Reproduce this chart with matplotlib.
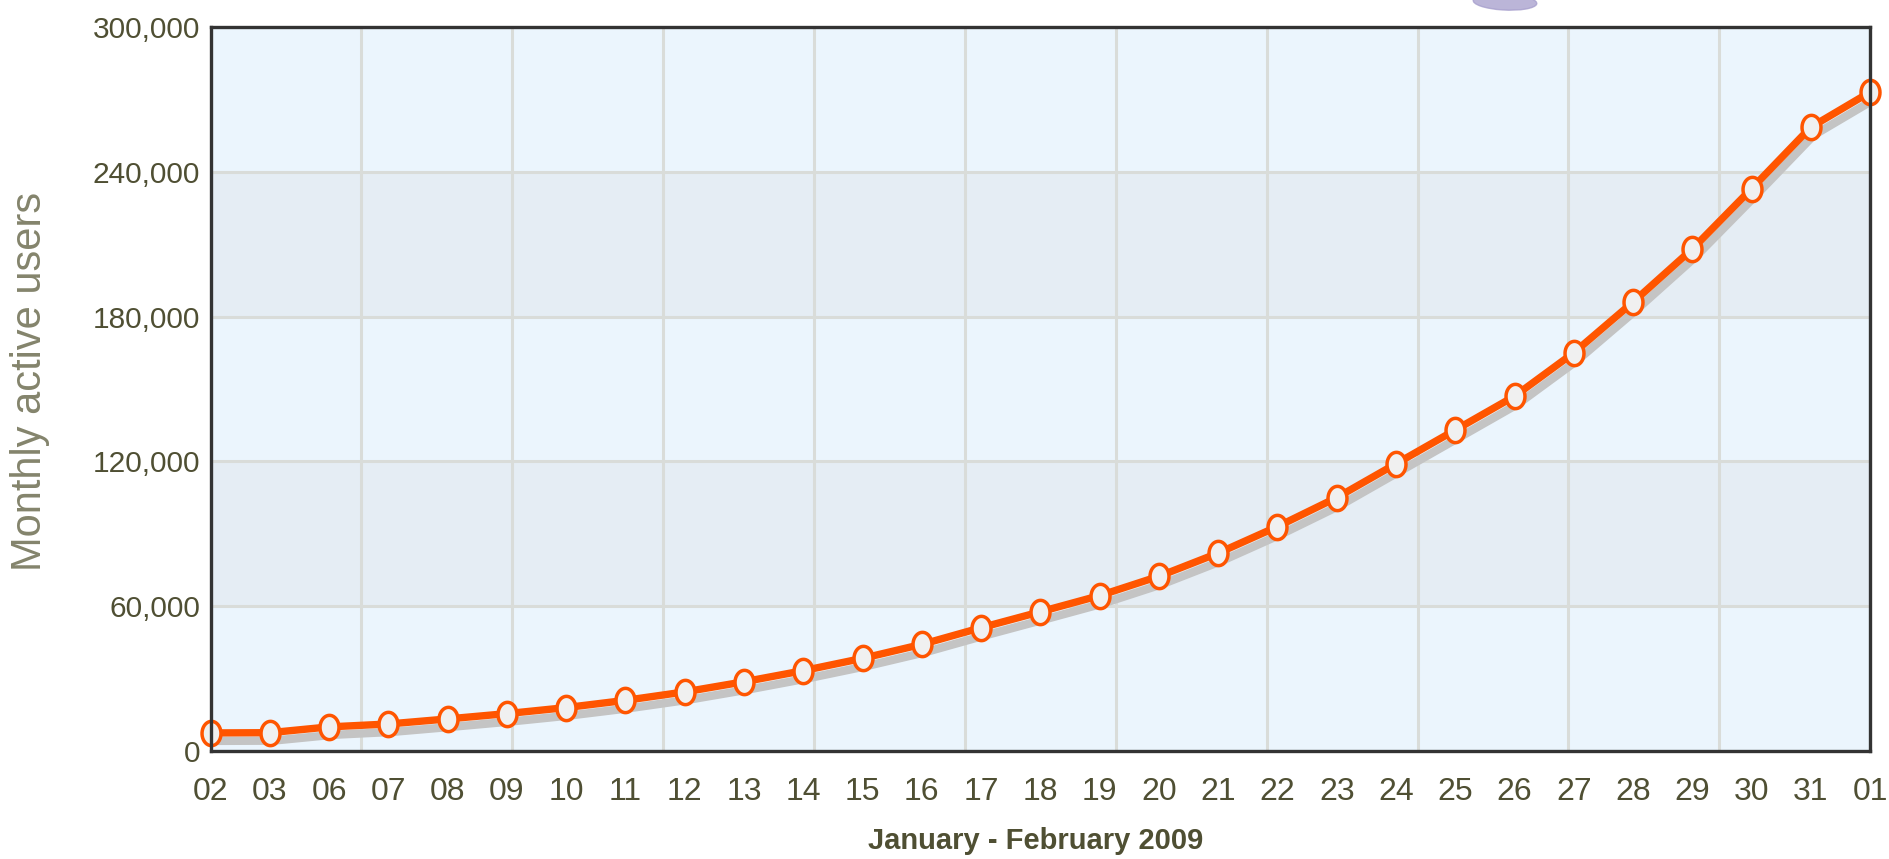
import matplotlib
matplotlib.use("Agg")
import matplotlib.pyplot as plt
import matplotlib.transforms as mtransforms
from matplotlib.path import Path
from matplotlib.patches import Ellipse
import numpy as np

# data
day_labels = ["02", "03", "06", "07", "08", "09", "10", "11", "12", "13",
              "14", "15", "16", "17", "18", "19", "20", "21", "22", "23",
              "24", "25", "26", "27", "28", "29", "30", "31", "01"]
active_users = [7500, 7600, 10000, 11200, 13300, 15500, 18000, 21000, 24500, 28700,
                33300, 38400, 44200, 51100, 57700, 64400, 72400, 82000, 93000, 105000,
                119000, 133000, 147000, 165000, 186000, 208000, 233000, 258500, 273000]
y_ticks = [0, 60000, 120000, 180000, 240000, 300000]
y_tick_labels = ["0", "60,000", "120,000", "180,000", "240,000", "300,000"]

orange = "#FF5500"
text_col = "#4F4F33"

plt.rcParams["font.family"] = ["Liberation Sans", "DejaVu Sans"]

fig = plt.figure(figsize=(18.89, 8.59), dpi=100)
ax = fig.add_axes([0.1115, 0.1257, 0.8785, 0.8429])

x = np.arange(len(day_labels))

# background bands
ax.set_facecolor("#EBF5FD")
for lo, hi in [(60000, 120000), (180000, 240000)]:
    ax.axhspan(lo, hi, color="#E5EDF4", zorder=0)

# grid
for yv in y_ticks[1:-1]:
    ax.axhline(yv, color="#D9DCD9", lw=2.2, zorder=1)
for xv in np.linspace(0, len(day_labels) - 1, 12)[1:-1]:
    ax.axvline(xv, color="#D9DCD9", lw=2.2, zorder=1)

# shadow under the line
shadow_tr = mtransforms.offset_copy(ax.transData, fig=fig, x=3, y=-8, units="dots")
ax.plot(x, active_users, color="#C4C4C4", lw=6, transform=shadow_tr,
        zorder=2, solid_capstyle="butt")

# ellipse marker (taller than wide)
t = np.linspace(0, 2 * np.pi, 40)
ell = Path(np.column_stack([0.78 * np.cos(t), np.sin(t)]), closed=True)

ax.plot(x, active_users, color=orange, lw=5.3, zorder=3, clip_on=False,
        marker=ell, markersize=17.5, markerfacecolor="#F0F0F0",
        markeredgecolor=orange, markeredgewidth=2.5)

ax.set_xlim(0, len(day_labels) - 1)
ax.set_ylim(0, 300000)

ax.set_xticks(x)
ax.set_xticklabels(day_labels)
ax.set_yticks(y_ticks)
ax.set_yticklabels(y_tick_labels)
ax.tick_params(axis="x", length=0, pad=19, labelsize=23, labelcolor=text_col)
ax.tick_params(axis="y", length=0, pad=7.5, labelsize=21.5, labelcolor=text_col)

for sp in ax.spines.values():
    sp.set_color("#333333")
    sp.set_linewidth(2.4)
    sp.set_zorder(5)

ax.set_xlabel("January - February 2009", fontsize=21, fontweight="bold",
              color=text_col, va="top")
ax.xaxis.set_label_coords(0.497, -0.105)
ax.set_ylabel("Monthly active users", fontsize=30, color="#84846C", va="center")
ax.yaxis.set_label_coords(-0.109, 0.511)

# bit of a purple logo clipped at the top of the source image
fig.add_artist(Ellipse((1505 / 1889, 1 - 2 / 859), 64 / 1889, 16 / 859, angle=-8,
                       transform=fig.transFigure, color="#A49CCB", alpha=0.75))

fig.savefig("out.png", dpi=100)
